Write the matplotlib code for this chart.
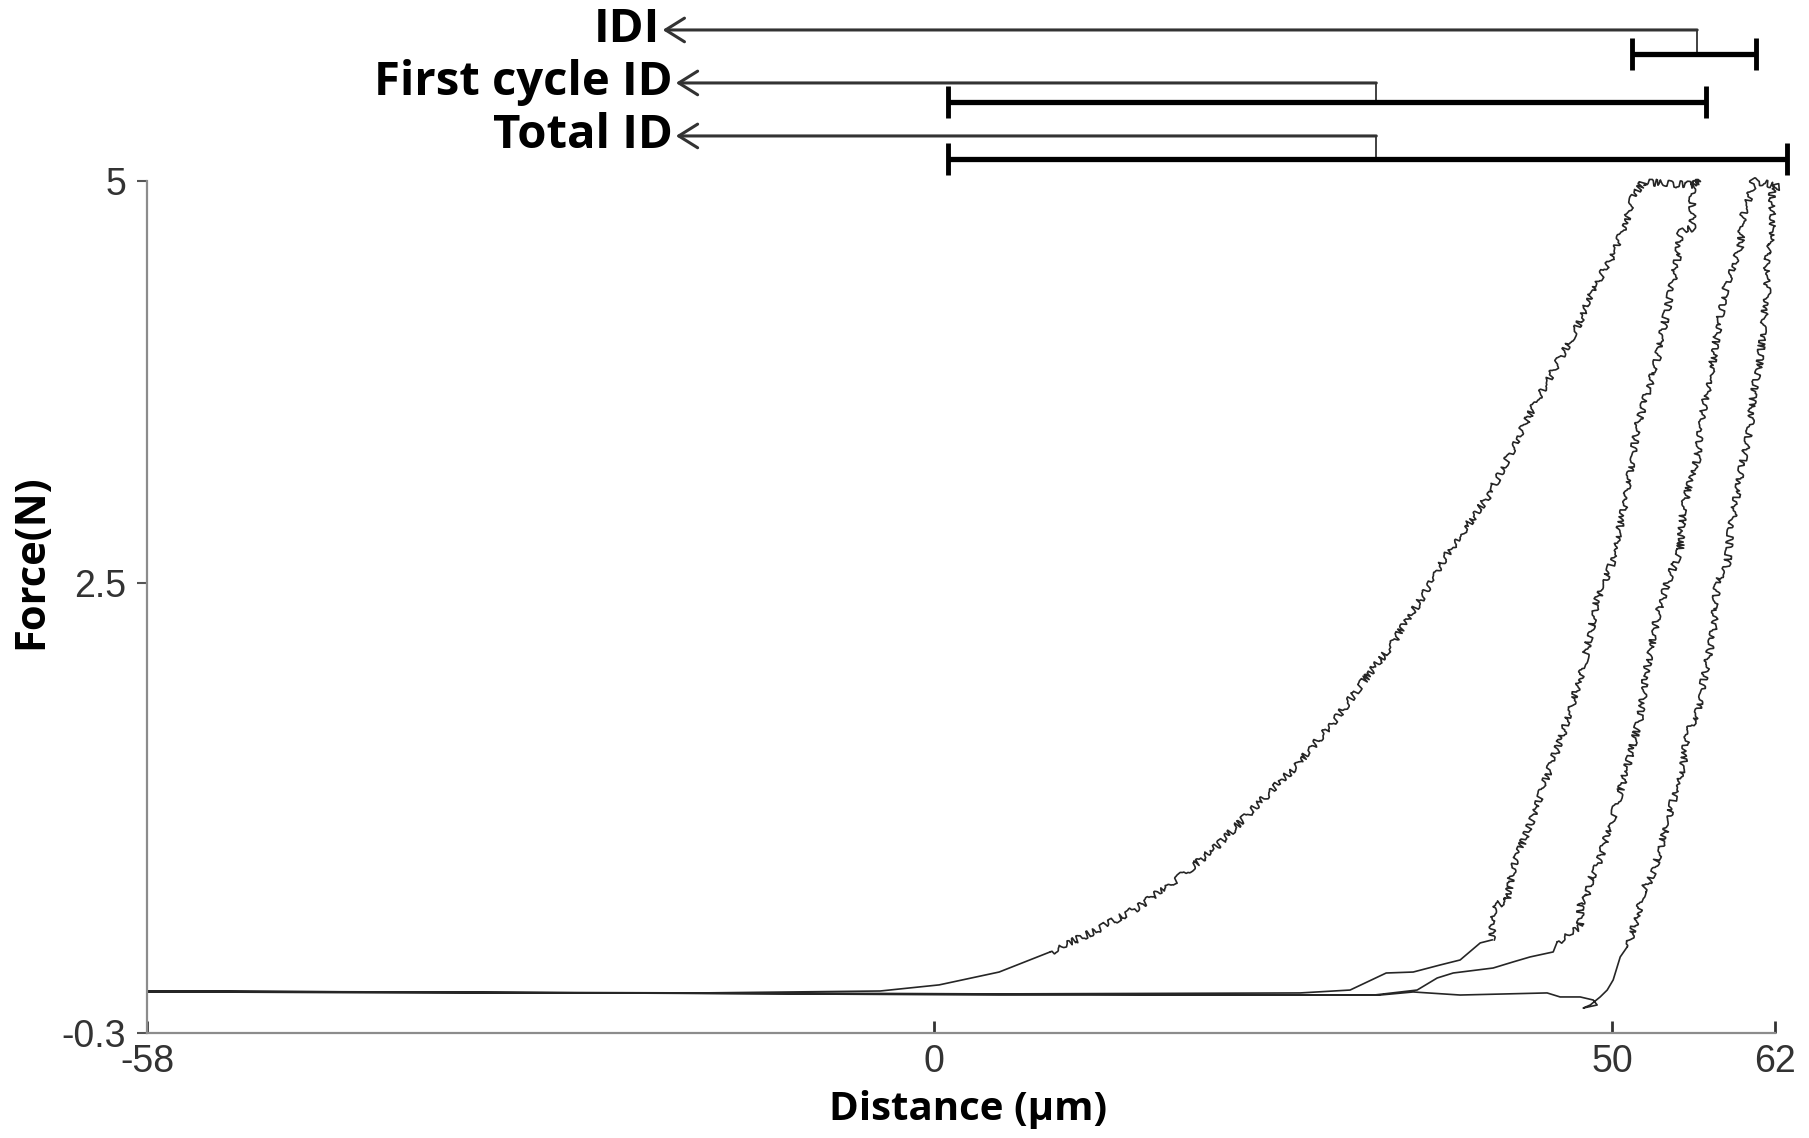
import numpy as np
import matplotlib.pyplot as plt

plt.rcParams['font.family'] = ['Liberation Sans', 'DejaVu Sans']
plt.rcParams['axes.unicode_minus'] = False

# cycle 1: loading, hold at peak, unloading back to the baseline
cycle1_dist = np.array([
    -58.0, -39.35, -17.24, -3.97, 0.38, 4.80, 8.56, 12.02, 14.97, 18.14,
    20.80, 23.67, 26.62, 29.57, 31.56, 33.62, 35.39, 36.79, 37.53, 40.99,
    44.46, 47.41, 48.73, 49.84, 50.80, 51.53, 52.27,
    54.26, 55.96, 56.47,
    55.88, 55.88, 55.00, 54.78, 54.04, 53.30, 52.57, 51.83, 51.09, 50.06,
    48.88, 47.85, 47.11, 46.37, 45.42, 44.16, 42.69, 42.25, 41.21, 41.14,
    40.26, 38.78, 37.31, 35.32, 33.33, 30.67, 26.99, 4.87, -24.61, -58.0])
cycle1_force = np.array([
    -0.039, -0.045, -0.051, -0.039, -0.001, 0.079, 0.204, 0.341, 0.477, 0.670,
    0.857, 1.106, 1.355, 1.647, 1.877, 2.101, 2.331, 2.518, 2.642, 3.059,
    3.638, 4.092, 4.353, 4.509, 4.695, 4.894, 4.994,
    4.981, 4.975, 5.000,
    4.969, 4.708, 4.677, 4.509, 4.198, 3.887, 3.681, 3.470, 3.059, 2.642,
    2.394, 1.977, 1.771, 1.566, 1.355, 1.044, 0.733, 0.527, 0.484, 0.279,
    0.260, 0.154, 0.123, 0.079, 0.073, -0.033, -0.051, -0.057, -0.051, -0.039])

# cycle 2: reloading, hold, unloading
cycle2_dist = np.array([
    -58.0, -24.61, 4.87, 32.44, 35.61, 37.09, 38.27, 41.21, 42.69, 43.94,
    45.64, 45.93, 46.89, 47.63, 47.63, 48.22, 48.37, 48.88, 50.06, 51.09,
    52.05, 52.57, 53.30, 54.04, 55.00, 55.22, 56.25, 56.69, 57.21, 57.73,
    58.17, 58.46, 59.42, 59.64, 60.38, 60.38,
    61.26, 62.37,
    61.78, 61.78, 61.41, 61.41, 61.11, 60.89, 60.38, 60.16, 59.64, 59.20,
    58.69, 58.46, 57.73, 57.43, 56.69, 56.25, 55.51, 55.22, 54.48, 53.53,
    52.79, 52.27, 51.83, 51.09, 50.58, 50.06, 49.62, 49.10, 48.37, 47.85,
    48.88, 48.59, 47.63, 46.15, 45.19, 38.78, 35.32, 32.88, 4.87, -58.0])
cycle2_force = np.array([
    -0.045, -0.051, -0.064, -0.064, -0.033, 0.042, 0.073, 0.104, 0.142, 0.173,
    0.204, 0.266, 0.322, 0.359, 0.509, 0.546, 0.652, 0.733, 1.044, 1.355,
    1.666, 1.977, 2.288, 2.499, 2.705, 2.972, 3.264, 3.575, 3.781, 4.054,
    4.260, 4.372, 4.583, 4.788, 4.975, 5.000,
    4.988, 4.963,
    4.956, 4.602, 4.558, 4.303, 4.092, 3.887, 3.681, 3.470, 3.264, 3.059,
    2.810, 2.599, 2.499, 2.188, 1.877, 1.666, 1.566, 1.355, 1.149, 0.838,
    0.652, 0.590, 0.422, 0.235, 0.173, 0.030, -0.033, -0.076, -0.126, -0.145,
    -0.126, -0.095, -0.076, -0.076, -0.051, -0.064, -0.045, -0.064, -0.057, -0.045])

x_ticks = [-58, 0, 50, 62]
y_ticks = [-0.3, 2.5, 5]

# indentation-depth brackets drawn above the plot
id_labels = ['IDI', 'First cycle ID', 'Total ID']
id_start = [51.46, 1.04, 1.04]
id_end = [60.6, 56.91, 62.88]
id_corner = [56.25, 32.6, 32.6]
id_tip = [-20.2, -19.23, -19.23]

line_col = '#262626'
bold_font = 'Open Sans'

fig = plt.figure(figsize=(18.09, 11.38), dpi=100)
ax = fig.add_axes([0.0813, 0.0923, 0.9, 0.7487])


def draw_curve(x, f):
    # smooth near the baseline, noisy once the tip is loaded
    rough = f > 0.3
    near = rough.copy()
    near[1:] |= rough[:-1]
    near[:-1] |= rough[1:]
    ax.plot(x, np.ma.masked_where(rough, f), color=line_col, lw=1.2, clip_on=False)
    ln, = ax.plot(x, np.ma.masked_where(~near, f), color=line_col, lw=1.2, clip_on=False)
    ln.set_sketch_params(scale=3.5, length=22, randomness=12)


draw_curve(cycle1_dist, cycle1_force)
draw_curve(cycle2_dist, cycle2_force)

ax.set_xlim(-58, 62)
ax.set_ylim(-0.3, 5)
ax.set_xticks(x_ticks)
ax.set_xticklabels([str(v) for v in x_ticks])
ax.set_yticks(y_ticks)
ax.set_yticklabels([str(v) for v in y_ticks])

for s in ['top', 'right']:
    ax.spines[s].set_visible(False)
for s in ['left', 'bottom']:
    ax.spines[s].set_color('#8c8c8c')
    ax.spines[s].set_linewidth(1.6)

ax.tick_params(axis='y', direction='out', length=7, width=1.5, color='#555555',
               labelsize=27, labelcolor='#333333', pad=8)
ax.tick_params(axis='x', direction='in', length=9, width=2, color='#333333',
               labelsize=27, labelcolor='#333333', pad=8)

ax.set_xlabel('Distance (µm)', fontsize=29, fontweight='bold', family=bold_font, va='top')
ax.xaxis.set_label_coords(0.504, -0.067)
ax.set_ylabel('Force(N)', fontsize=30, fontweight='bold', family=bold_font)
ax.yaxis.set_label_coords(-0.058, 0.553)

trans = ax.get_xaxis_transform()
arrow_y = [1.1772, 1.1150, 1.0528]
bar_y = [1.1491, 1.0927, 1.0258]
cap = 0.019
for i in range(3):
    ax.annotate(id_labels[i], xy=(id_corner[i], arrow_y[i]), xycoords=trans,
                xytext=(id_tip[i], arrow_y[i]), textcoords=trans,
                ha='right', va='center', fontsize=34, fontweight='bold', family=bold_font,
                arrowprops=dict(arrowstyle='<-, head_length=0.4, head_width=0.25',
                                color='#333333', lw=2.2, shrinkA=0, shrinkB=0))
    ax.plot([id_corner[i], id_corner[i]], [arrow_y[i], bar_y[i]], color='#333333',
            lw=1.3, transform=trans, clip_on=False)
    ax.plot([id_start[i], id_end[i]], [bar_y[i], bar_y[i]], color='black', lw=3.8,
            transform=trans, clip_on=False, solid_capstyle='butt')
    for xe in (id_start[i], id_end[i]):
        ax.plot([xe, xe], [bar_y[i] - cap, bar_y[i] + cap], color='black', lw=3.5,
                transform=trans, clip_on=False, solid_capstyle='butt')

fig.savefig('out.png', dpi=100)
